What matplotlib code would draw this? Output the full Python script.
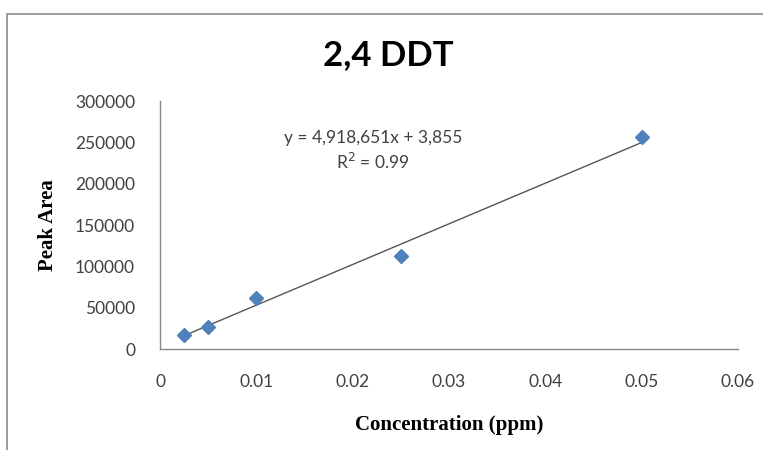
import matplotlib.pyplot as plt
import numpy as np
from matplotlib.patches import Rectangle

# data
conc = [0.0025, 0.005, 0.01, 0.025, 0.05]
peak_area = [17000, 27000, 61500, 112500, 256000]
slope = 4918651
intercept = 3855
r2 = 0.99

x_ticks = [0, 0.01, 0.02, 0.03, 0.04, 0.05, 0.06]
x_labels = ['0', '0.01', '0.02', '0.03', '0.04', '0.05', '0.06']
y_ticks = [0, 50000, 100000, 150000, 200000, 250000, 300000]

sans = ['Lato', 'DejaVu Sans']
serif = ['Liberation Serif', 'DejaVu Serif']

fig = plt.figure(figsize=(7.63, 4.5), dpi=100)

# outer chart frame
fig.patches.append(Rectangle((7 / 763, -0.05), 1.2, 1 - 14 / 450 + 0.05,
                             transform=fig.transFigure, fill=False,
                             edgecolor='#8c8c8c', linewidth=1.2))

ax = fig.add_axes([160 / 763, 1 - 349 / 450, 578 / 763, 248 / 450])

# trendline over the data range
xs = np.array([min(conc), max(conc)])
ax.plot(xs, slope * xs + intercept, color='#555555', linewidth=1.0, zorder=2)
ax.plot(conc, peak_area, linestyle='none', marker='D', markersize=7,
        color='#4f81bd', zorder=3)

ax.set_xlim(0, 0.06)
ax.set_ylim(0, 300000)
ax.set_xticks(x_ticks)
ax.set_xticklabels(x_labels)
ax.set_yticks(y_ticks)
ax.set_yticklabels([str(v) for v in y_ticks])
ax.tick_params(length=0, labelsize=12.5, labelcolor='#404040')
ax.tick_params(axis='x', pad=18)
ax.tick_params(axis='y', pad=18)
for lab in ax.get_xticklabels() + ax.get_yticklabels():
    lab.set_family(sans)

for side in ['top', 'right']:
    ax.spines[side].set_visible(False)
for side in ['left', 'bottom']:
    ax.spines[side].set_color('#868686')
    ax.spines[side].set_linewidth(1.0)

ax.set_xlabel('Concentration (ppm)', family=serif, fontweight='bold',
              fontsize=15, labelpad=18)
ax.set_ylabel('Peak Area', family=serif, fontweight='bold', fontsize=15,
              labelpad=12)

eq = 'y = {:,}x + {:,}'.format(slope, intercept)
ax.text(0.0221, 255000, eq, family=sans, fontsize=12.5, color='#404040',
        ha='center', va='center')
ax.text(0.0221, 226000, 'R$^2$ = {:.2f}'.format(r2), family=sans,
        fontsize=12.5, color='#404040', ha='center', va='center')

fig.text(388 / 763, 1 - 55 / 450, '2,4 DDT', family=sans, fontweight='bold',
         fontsize=25, ha='center', va='center')

fig.savefig('out.png', dpi=100)
